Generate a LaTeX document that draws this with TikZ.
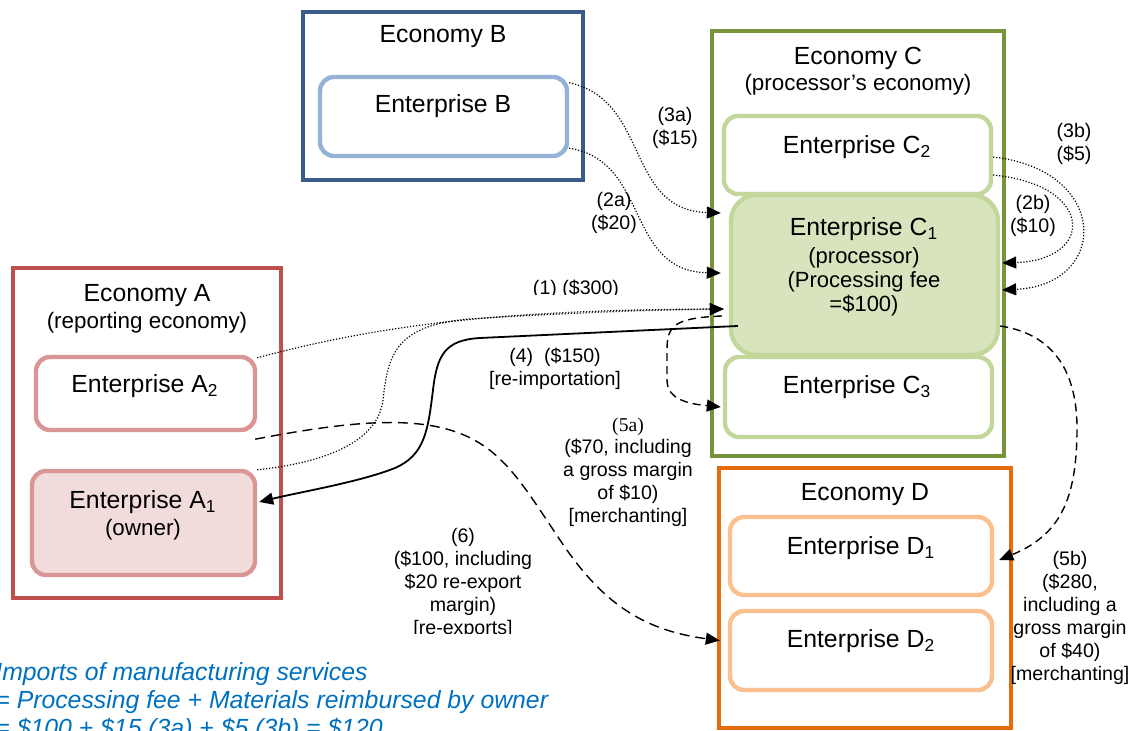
\documentclass[tikz,border=0pt]{standalone}
\usepackage{fontspec}
\setmainfont{Liberation Sans}
\newfontfamily\serifT{Liberation Serif}
\usetikzlibrary{arrows.meta,fit,calc}
\definecolor{ecoBc}{HTML}{385D8A}
\definecolor{entBc}{HTML}{95B3D7}
\definecolor{ecoCc}{HTML}{77933C}
\definecolor{entCc}{HTML}{C3D69B}
\definecolor{entCf}{HTML}{D7E4BD}
\definecolor{ecoAc}{HTML}{C0504D}
\definecolor{entAc}{HTML}{D99694}
\definecolor{entAf}{HTML}{F2DCDB}
\definecolor{ecoDc}{HTML}{E46C0A}
\definecolor{entDc}{HTML}{FAC090}
\definecolor{noteblue}{HTML}{0070C0}
\begin{document}
\begin{tikzpicture}[x=0.5pt,y=-0.5pt,
  eco/.style={draw, line width=2pt, inner sep=0pt, fill=white},
  ent/.style={draw, line width=2.2pt, inner sep=0pt, rounded corners=7pt, fill=white},
  ttl/.style={font=\fontsize{12.4}{14}\selectfont, inner sep=0pt},
  sub/.style={font=\fontsize{11.2}{13.5}\selectfont, inner sep=0pt, align=center},
  lab/.style={font=\fontsize{9.8}{11.5}\selectfont, inner sep=0pt, align=center},
  conn/.style={-{Triangle[length=7pt,width=6pt]}},
  dots/.style={conn, line width=0.6pt, dash pattern=on 0.6pt off 0.9pt},
  dsh/.style={conn, line width=0.7pt, dash pattern=on 4pt off 2.5pt},
  ldsh/.style={conn, line width=0.7pt, dash pattern=on 5pt off 3pt},
  solidc/.style={conn, line width=0.9pt}]
\useasboundingbox (0,0) rectangle (1137,731);
\clip (0,0) rectangle (1137,731);

% Economy B
\node[eco, draw=ecoBc, fit={(303,12) (583,180)}] (ecoB) {};
\node[ent, draw=entBc, fit={(320,77) (567,156)}] (entB) {};
\node[ttl] (ecoBt) at (443,37) {Economy B};
\node[ttl] (entBt) at (443,106) {Enterprise B};

% Economy C
\node[eco, draw=ecoCc, fit={(712,31) (1004,456)}] (ecoC) {};
\node[ent, draw=entCc, fit={(724,116) (991,194)}] (entC2) {};
\node[ent, draw=entCc, fill=entCf, rounded corners=13pt, fit={(731,195) (998,355)}] (entC1) {};
\node[ent, draw=entCc, fit={(725,357) (992,437)}] (entC3) {};
\node[ttl] (ecoCt) at (858,58) {Economy C};
\node[sub] (ecoCs) at (858,85) {(processor’s economy)};
\node[ttl] (entC2t) at (857,147) {Enterprise C\textsubscript{2}};
\node[ttl] (entC1t) at (864,229) {Enterprise C\textsubscript{1}};
\node[sub, font=\fontsize{11}{12}\selectfont] (entC1s) at (864,282) {(processor)\\(Processing fee\\=\$100)};
\node[ttl] (entC3t) at (857,387) {Enterprise C\textsubscript{3}};

% Economy A
\node[eco, draw=ecoAc, fit={(13,268) (281,598)}] (ecoA) {};
\node[ent, draw=entAc, fit={(36,357) (255,430)}] (entA2) {};
\node[ent, draw=entAc, fill=entAf, fit={(32,471) (255,575)}] (entA1) {};
\node[ttl] (ecoAt) at (147,296) {Economy A};
\node[sub] (ecoAs) at (147,323) {(reporting economy)};
\node[ttl] (entA2t) at (145,386) {Enterprise A\textsubscript{2}};
\node[ttl] (entA1t) at (143,502) {Enterprise A\textsubscript{1}};
\node[sub] (entA1s) at (143,530) {(owner)};

% Economy D
\node[eco, draw=ecoDc, line width=2.3pt, fit={(719,468) (1011,728)}] (ecoD) {};
\node[ent, draw=entDc, fit={(730,517) (992,595)}] (entD1) {};
\node[ent, draw=entDc, fit={(730,611) (992,690)}] (entD2) {};
\node[ttl] (ecoDt) at (865,495) {Economy D};
\node[ttl] (entD1t) at (861,548) {Enterprise D\textsubscript{1}};
\node[ttl] (entD2t) at (861,641) {Enterprise D\textsubscript{2}};

% connectors
\draw[dots] ($(entB.north east)+(0,8)$) .. controls (650,100) and (625,210) .. ($(entC1.west)+(-8,-62)$);
\draw[dots] ($(entB.south east)+(0,-10)$) .. controls (650,161) and (625,271) .. ($(entC1.west)+(-8,-2)$);
\draw[dots] ($(entC2.east)+(0,2)$) .. controls (1110,170) and (1110,285) .. ($(entC1.east)+(2,15)$);
\draw[dots] ($(entC2.east)+(0,20)$) .. controls (1095,185) and (1095,260) .. ($(entC1.east)+(2,-12)$);
\draw[dots] ($(entA2.north east)+(0,3)$) .. controls (380,325) and (500,310) .. ($(entC1.west)+(-5,34)$);
\draw[dots] ($(entA1.north east)+(0,1)$) .. controls (330,462) and (378,440) .. (383,400)
   .. controls (388,355) and (395,325) .. (470,319) .. controls (560,313) and (650,310) .. ($(entC1.west)+(-5,34)$);
\draw[solidc] ($(entC1.west)+(9,51)$) -- (480,338) .. controls (445,340) and (437,355) .. (433,390)
   .. controls (428,430) and (425,455) .. (395,468) .. controls (360,482) and (300,492) .. ($(entA1.east)+(2,-21)$);
\draw[dsh] ($(entC1.west)+(-7,41)$) .. controls (675,318) and (667,325) .. (667,350) -- (667,380)
   .. controls (667,400) and (690,404) .. ($(entC3.west)+(-2,10)$);
\draw[dsh] ($(entC1.east)+(0,51)$) .. controls (1060,335) and (1078,380) .. (1077,433)
   .. controls (1076,500) and (1060,535) .. ($(entD1.east)+(5,4)$);
\draw[ldsh] ($(entA2.south east)+(-2,7)$) .. controls (330,425) and (400,415) .. (450,430)
   .. controls (500,445) and (520,480) .. (560,540) .. controls (600,600) and (640,630) .. ($(entD2.west)+(-8,-10)$);

% labels
\node[lab] (l3a) at (675,128) {(3a)\\(\$15)};
\node[lab] (l2a) at (614,213) {(2a)\\(\$20)};
\node[lab] (l3b) at (1074,144) {(3b)\\(\$5)};
\node[lab] (l2b) at (1033,216) {(2b)\\(\$10)};
\begin{scope}
\clip (480,270) rectangle (680,295);
\node[lab] (l1) at (576,289) {(1) (\$300)};
\end{scope}
\node[lab] (l4) at (555,369) {(4)\ \ (\$150)\\{[re-importation]}};
\node[lab, font=\fontsize{9.8}{11.5}\serifT] (l5a) at (628,427) {(5a)};
\node[lab] (l5at) at (628,482.5) {(\$70, including\\a gross margin\\of \$10)\\{[merchanting]}};
\node[lab] (l5b) at (1070,618) {(5b)\\(\$280,\\including a\\gross margin\\of \$40)\\{[merchanting]}};
\begin{scope}
\clip (380,520) rectangle (560,634);
\node[lab] (l6) at (463,583.5) {(6)\\(\$100, including\\\$20 re-export\\margin)\\{[re-exports]}};
\end{scope}

% note
\node[anchor=base west, inner sep=0pt, align=left, text=noteblue,
  font=\fontsize{12.4}{14}\selectfont\itshape] (note) at (-5,737)
  {Imports of manufacturing services\\= Processing fee + Materials reimbursed by owner\\= \$100 + \$15 (3a) + \$5 (3b) = \$120};
\end{tikzpicture}
\end{document}
